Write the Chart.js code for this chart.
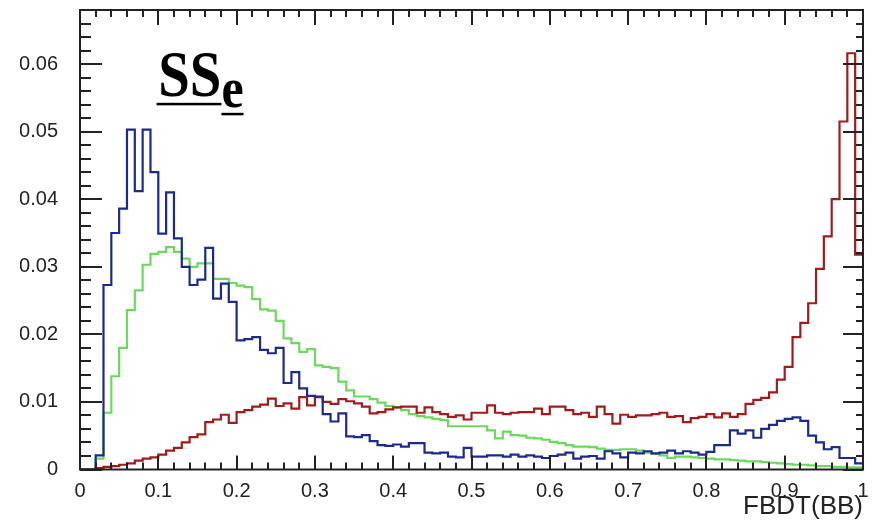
<!DOCTYPE html>
<html>
<head>
<meta charset="utf-8">
<title>FBDT(BB)</title>
<script src="https://cdn.jsdelivr.net/npm/chart.js@4"></script>
<style>
  html, body { margin: 0; padding: 0; background: #fff; }
  #wrap { width: 872px; height: 522px; }
</style>
</head>
<body>
<div id="wrap"><canvas id="chart"></canvas></div>
<script>
// histogram binning: 100 bins between 0 and 1
const xRange = [0, 1];
const nBins = 100;

// bin contents (normalised)
const blueVals = [
  0, 0, 0.0021, 0.0273, 0.035, 0.0386, 0.0503, 0.0412, 0.0503, 0.044,
  0.0349, 0.041, 0.0342, 0.030, 0.0273, 0.0281, 0.0328, 0.0253, 0.0275, 0.0248,
  0.0191, 0.0193, 0.0196, 0.0177, 0.0172, 0.018, 0.0128, 0.0144, 0.012, 0.0109,
  0.0108, 0.0082, 0.0071, 0.0083, 0.0049, 0.0048, 0.0051, 0.0042, 0.0036, 0.0035,
  0.0037, 0.0034, 0.0039, 0.0039, 0.0025, 0.0024, 0.0025, 0.0019, 0.0018, 0.0032,
  0.0019, 0.0019, 0.0021, 0.0021, 0.0019, 0.0022, 0.0019, 0.0021, 0.0019, 0.0017,
  0.002, 0.0022, 0.0025, 0.0016, 0.0019, 0.002, 0.0016, 0.0027, 0.0024, 0.0018,
  0.0025, 0.0024, 0.0027, 0.0024, 0.0025, 0.0028, 0.0024, 0.0027, 0.0025, 0.0022,
  0.0026, 0.0036, 0.0036, 0.0058, 0.0053, 0.0058, 0.0047, 0.006, 0.0066, 0.0072,
  0.0075, 0.0077, 0.0072, 0.005, 0.004, 0.003, 0.0033, 0.0017, 0.0017, 0.0009
];
const greenVals = [
  0, 0, 0.0016, 0.0084, 0.0138, 0.018, 0.0236, 0.0265, 0.0303, 0.0319,
  0.0322, 0.0329, 0.0322, 0.0312, 0.030, 0.0305, 0.0305, 0.0282, 0.0282, 0.0276,
  0.0272, 0.027, 0.0252, 0.0237, 0.0235, 0.022, 0.0194, 0.0187, 0.0174, 0.0178,
  0.0154, 0.0152, 0.015, 0.013, 0.0117, 0.0108, 0.0108, 0.0104, 0.0099, 0.0094,
  0.0092, 0.0088, 0.0082, 0.0079, 0.0077, 0.0075, 0.0073, 0.0064, 0.0064, 0.0064,
  0.0064, 0.0064, 0.0058, 0.0046, 0.0056, 0.0051, 0.005, 0.0047, 0.0046, 0.0044,
  0.0041, 0.0039, 0.0036, 0.0034, 0.0034, 0.0033, 0.0031, 0.0029, 0.0029, 0.003,
  0.003, 0.0028, 0.0025, 0.0023, 0.0021, 0.0017, 0.0019, 0.0019, 0.0018, 0.0017,
  0.0016, 0.0015, 0.0015, 0.0014, 0.0013, 0.0012, 0.0012, 0.0011, 0.001, 0.0009,
  0.0008, 0.0007, 0.0007, 0.0006, 0.0005, 0.0005, 0.0004, 0.0004, 0.0003, 0.0003
];
const redVals = [
  0, 0, 0.0002, 0.0004, 0.0005, 0.0007, 0.0009, 0.0013, 0.0016, 0.0018,
  0.0022, 0.0028, 0.0032, 0.004, 0.0048, 0.0052, 0.007, 0.0074, 0.0081, 0.0069,
  0.0085, 0.0088, 0.0093, 0.0096, 0.0105, 0.0094, 0.0098, 0.009, 0.0107, 0.0095,
  0.0107, 0.01, 0.0097, 0.0104, 0.0101, 0.0098, 0.0093, 0.0083, 0.0085, 0.0089,
  0.0092, 0.0093, 0.0093, 0.0084, 0.0092, 0.0085, 0.0082, 0.0078, 0.008, 0.0074,
  0.0084, 0.0084, 0.0095, 0.0084, 0.0082, 0.0084, 0.0085, 0.0085, 0.009, 0.0082,
  0.0093, 0.0093, 0.0088, 0.0082, 0.0084, 0.0078, 0.0093, 0.0082, 0.0068, 0.0081,
  0.0078, 0.008, 0.008, 0.0082, 0.0084, 0.0078, 0.0079, 0.007, 0.0076, 0.0078,
  0.0082, 0.0077, 0.0083, 0.0078, 0.0082, 0.0097, 0.0103, 0.0106, 0.0114, 0.0133,
  0.0152, 0.0196, 0.0217, 0.0246, 0.0297, 0.0345, 0.040, 0.0515, 0.0616, 0.0318
];

const xTickLabels = ['0', '0.1', '0.2', '0.3', '0.4', '0.5', '0.6', '0.7', '0.8', '0.9', '1'];
const yTickLabels = ['0', '0.01', '0.02', '0.03', '0.04', '0.05', '0.06'];
const xTitle = 'FBDT(BB)';
const plotTitle = 'SS';
const plotTitleSub = 'e';
const titleAt = [0.1, 0.0553]; // data coords of the label

// turn bin contents into step points (lower edge of each bin + closing point)
function toSteps(vals) {
  const w = (xRange[1] - xRange[0]) / nBins;
  const pts = vals.map((v, i) => ({ x: xRange[0] + i * w, y: v }));
  pts.push({ x: xRange[1], y: vals[vals.length - 1] });
  return pts;
}

// ROOT style frame with inward ticks on all four sides + the SS_e label
const rootFrame = {
  id: 'rootFrame',
  afterDatasetsDraw(chart) {
    const { ctx, chartArea: a, scales: { x, y } } = chart;
    ctx.save();
    ctx.strokeStyle = '#222';
    ctx.lineWidth = 2;
    ctx.beginPath();
    for (let i = 0; i <= 50; i++) {
      const px = Math.round(x.getPixelForValue(i * 0.02));
      const major = i % 5 === 0;
      ctx.moveTo(px, a.bottom);
      ctx.lineTo(px, a.bottom - (major ? 14 : 7));
      ctx.moveTo(px, a.top);
      ctx.lineTo(px, a.top + (major ? 15 : 7));
    }
    for (let i = 0; i * 0.002 <= y.max + 1e-9; i++) {
      const py = Math.round(y.getPixelForValue(i * 0.002));
      const major = i % 5 === 0;
      ctx.moveTo(a.left, py);
      ctx.lineTo(a.left + (major ? 22 : 11), py);
      ctx.moveTo(a.right, py);
      ctx.lineTo(a.right - (major ? 20 : 7), py);
    }
    ctx.stroke();
    ctx.lineWidth = 2;
    ctx.strokeRect(a.left, a.top, a.width, a.height);

    // title: bold serif, underlined, subscript e
    const tx = x.getPixelForValue(titleAt[0]);
    const ty = y.getPixelForValue(titleAt[1]);
    ctx.fillStyle = '#000';
    ctx.textBaseline = 'alphabetic';
    ctx.translate(tx, ty);
    ctx.scale(0.86, 1);
    ctx.font = 'bold 66px "Liberation Serif", "Times New Roman", serif';
    const w1 = ctx.measureText(plotTitle).width;
    ctx.fillText(plotTitle, 0, 0);
    ctx.fillRect(-2, 7, w1 + 2, 2.5);
    ctx.font = 'bold 58px "Liberation Serif", "Times New Roman", serif';
    const w2 = ctx.measureText(plotTitleSub).width;
    ctx.fillText(plotTitleSub, w1, 11);
    ctx.fillRect(w1, 17, w2, 2.5);
    ctx.restore();
  }
};

const lineStyle = {
  stepped: 'before',
  pointRadius: 0,
  borderWidth: 2.2,
  fill: false,
  borderJoinStyle: 'miter',
  borderCapStyle: 'butt'
};

const tickFont = { family: '"Liberation Sans", Arial, sans-serif', size: 20 };

new Chart(document.getElementById('chart'), {
  type: 'line',
  data: {
    datasets: [
      { label: 'blue', data: toSteps(blueVals), borderColor: '#1d2a8c', ...lineStyle },
      { label: 'red', data: toSteps(redVals), borderColor: '#a01b1b', ...lineStyle },
      { label: 'green', data: toSteps(greenVals), borderColor: '#6cd85c', ...lineStyle }
    ]
  },
  options: {
    responsive: true,
    maintainAspectRatio: false,
    animation: false,
    layout: { padding: { left: 20, right: 9, top: 10, bottom: 0 } },
    plugins: {
      legend: { display: false },
      tooltip: { enabled: false }
    },
    scales: {
      x: {
        type: 'linear',
        min: xRange[0],
        max: xRange[1],
        grid: { display: false },
        border: { display: false },
        afterFit(s) {
          s.height = 52.5;
          s.paddingLeft = 0;
          s.paddingRight = 0;
        },
        ticks: {
          stepSize: 0.1,
          autoSkip: false,
          maxRotation: 0,
          padding: 2,
          color: '#222',
          font: tickFont,
          callback: v => xTickLabels[Math.round(v * 10)]
        },
        title: {
          display: true,
          text: xTitle,
          align: 'end',
          color: '#222',
          font: { family: '"Liberation Sans", Arial, sans-serif', size: 26, lineHeight: 1 },
          padding: { top: -4, bottom: 2 }
        }
      },
      y: {
        min: 0,
        max: 0.068,
        grid: { display: false },
        border: { display: false },
        afterFit(s) {
          s.width = 60;
          s.paddingTop = 0;
          s.paddingBottom = 0;
        },
        ticks: {
          stepSize: 0.01,
          includeBounds: false,
          padding: 14,
          color: '#222',
          font: tickFont,
          callback: v => yTickLabels[Math.round(v * 100)]
        }
      }
    }
  },
  plugins: [rootFrame]
});
</script>
</body>
</html>
